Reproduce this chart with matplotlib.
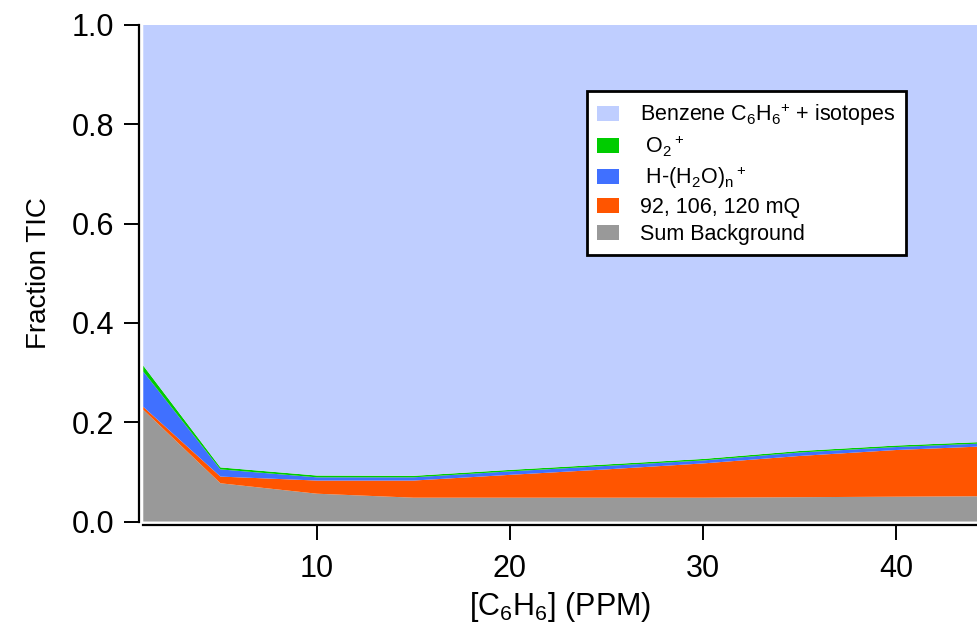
import matplotlib
matplotlib.use("Agg")
import matplotlib.pyplot as plt
from matplotlib.patches import Patch

plt.rcParams['font.family'] = ['Liberation Sans', 'DejaVu Sans']
plt.rcParams['mathtext.fontset'] = 'custom'
plt.rcParams['mathtext.rm'] = 'Liberation Sans'
plt.rcParams['mathtext.it'] = 'Liberation Sans:italic'

# ---- data ----
ppm = [1, 5, 10, 15, 20, 25, 30, 35, 40, 45]
background = [0.225, 0.077, 0.056, 0.048, 0.048, 0.048, 0.048, 0.049, 0.050, 0.051]
mq = [0.006, 0.0135, 0.0265, 0.0345, 0.046, 0.057, 0.069, 0.083, 0.094, 0.101]
water = [0.071, 0.0145, 0.0065, 0.0065, 0.007, 0.007, 0.006, 0.007, 0.006, 0.006]
o2 = [0.012, 0.004, 0.0036, 0.003, 0.003, 0.003, 0.003, 0.003, 0.003, 0.003]
benzene = [1 - (b + m + w + o) for b, m, w, o in zip(background, mq, water, o2)]

series = [background, mq, water, o2, benzene]
colors = ['#999999', '#FF5500', '#4070FF', '#00CC00', '#BFCEFF']
labels = ['Sum Background', '92, 106, 120 mQ', r' H-(H$_2$O)$_\mathrm{n}$$^+$',
          r' O$_2$$^+$', r'Benzene C$_6$H$_6$$^{+}$ + isotopes']
yticks = [0.0, 0.2, 0.4, 0.6, 0.8, 1.0]
xticks = [10, 20, 30, 40]

fig = plt.figure(figsize=(9.78, 6.26), dpi=100)
ax = fig.add_axes([0.1459, 0.1669, 0.8541, 0.7932])
ax.stackplot(ppm, *series, colors=colors, linewidth=0)

ax.set_xlim(0.97, 44.25)
ax.set_ylim(0, 1)
ax.set_yticks(yticks)
ax.set_yticklabels([f'{v:.1f}' for v in yticks])
ax.set_xticks(xticks)

for s in ['top', 'right']:
    ax.spines[s].set_visible(False)
for s in ['left', 'bottom']:
    ax.spines[s].set_position(('outward', 2.5))
    ax.spines[s].set_linewidth(1.6)
ax.tick_params(axis='both', direction='out', length=11, width=1.4,
               labelsize=22, colors='black')
ax.tick_params(axis='y', pad=7)
ax.tick_params(axis='x', pad=10)

ax.set_ylabel('Fraction TIC', fontsize=20, labelpad=14)
ax.set_xlabel(r'[C$_6$H$_6$] (PPM)', fontsize=22, labelpad=4)

handles = [Patch(facecolor=c, edgecolor='none') for c in colors[::-1]]
leg = ax.legend(handles, labels[::-1], loc='upper left',
                bbox_to_anchor=(0.519, 0.888), fontsize=15.5,
                frameon=True, fancybox=False, edgecolor='black',
                framealpha=1, handlelength=1.0, handleheight=0.7,
                labelspacing=0.27, borderpad=0.48, handletextpad=1.0)
leg.get_frame().set_linewidth(2.0)

fig.savefig('out.png', dpi=100)
